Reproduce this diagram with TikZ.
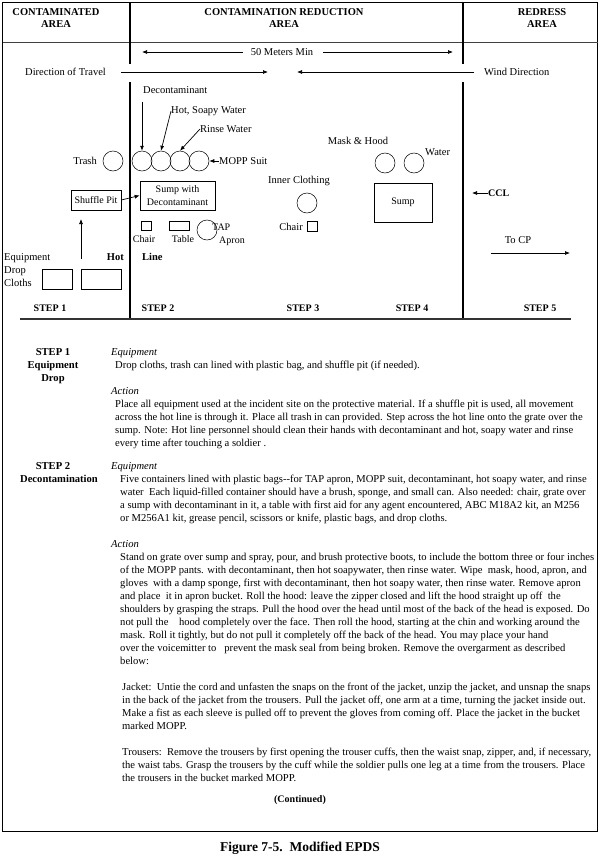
\documentclass[tikz,border=0pt]{standalone}
\usepackage{fontspec}
\setmainfont{Liberation Serif}
\usetikzlibrary{positioning, arrows.meta}

\begin{document}
\begin{tikzpicture}[x=1pt, y=-1pt,
    lbl/.style={font=\fontsize{10.5}{13}\selectfont, inner sep=0pt},
    tinylbl/.style={font=\fontsize{10}{12}\selectfont, inner sep=0pt},
    head/.style={font=\fontsize{10.5}{12.5}\selectfont\bfseries, align=center, inner sep=0pt},
    steplbl/.style={font=\fontsize{10}{12}\selectfont\bfseries, inner sep=0pt},
    bin/.style={circle, draw, line width=0.5pt, minimum size=20pt, inner sep=0pt},
    box/.style={rectangle, draw, line width=0.7pt, inner sep=0pt, font=\fontsize{10}{12.5}\selectfont, align=center},
    arrow/.style={-{Latex[length=5pt, width=4pt]}, line width=0.7pt},
    body/.style={font=\fontsize{10.6}{13}\selectfont, align=left, anchor=north west, inner sep=0pt},
    sidehead/.style={font=\fontsize{10.6}{13}\selectfont\bfseries, align=center, anchor=north, inner sep=0pt}
]
    \useasboundingbox (0,0) rectangle (600,859);

    % Frame and dividers
    \draw[line width=0.8pt] (2.5,2.5) rectangle (597.5,831);
    \draw[line width=0.6pt, black!75] (2.5,42) -- (597.5,42);
    \foreach \xx in {130, 463} {
        \draw[line width=1.1pt] (\xx,2.5) -- (\xx,64);
        \draw[line width=1.1pt] (\xx,82) -- (\xx,319);
    }
    \draw[line width=1.3pt, black!80] (20,319) -- (571,319);

    % Area headings
    \node[head] (hcont) at (56,18) {CONTAMINATED\\AREA};
    \node[head] (hred) at (284,18) {CONTAMINATION REDUCTION\\AREA};
    \node[head] (hredr) at (542,18) {REDRESS\\AREA};

    % Distance and directions
    \node[lbl] (meters) at (282,52) {50 Meters Min};
    \coordinate (mleft) at (142,52);
    \coordinate (mright) at (453,52);
    \draw[arrow] ([xshift=-8pt]meters.west) -- (mleft);
    \draw[arrow] ([xshift=10pt]meters.east) -- (mright);
    \node[lbl, anchor=west] (travel) at (25,72) {Direction of Travel};
    \coordinate (travelend) at (268,72);
    \draw[arrow] ([xshift=15pt]travel.east) -- (travelend);
    \node[lbl, anchor=west] (wind) at (484,72) {Wind Direction};
    \coordinate (windend) at (297,72);
    \draw[arrow] ([xshift=-10pt]wind.west) -- (windend);

    % Step 1
    \node[lbl, anchor=east] (trashlbl) at (97,161) {Trash};
    \node[bin] (trash) at (113,161) {};
    \node[box, minimum width=50pt, minimum height=20pt] (shuffle) at (96,200) {Shuffle Pit};
    \node[lbl, anchor=north west, align=left] (equip) at (4,251) {\strut Equipment\\Drop\\Cloths};
    \node[box, minimum width=30pt, minimum height=20pt] (cloth1) at (57,279) {};
    \node[box, minimum width=40pt, minimum height=20pt] (cloth2) at (101,279) {};
    \coordinate (upstart) at (81,259);
    \coordinate (upend) at (81,219);
    \draw[arrow] (upstart) -- (upend);
    \node[lbl, font=\fontsize{10.5}{13}\selectfont\bfseries, anchor=east] (hot) at (124,257) {Hot};
    \node[lbl, font=\fontsize{10.5}{13}\selectfont\bfseries, anchor=west] (line) at (142,257) {Line};

    % Step 2
    \foreach \n/\xx in {1/142, 2/161, 3/180, 4/199} {
        \node[bin] (c\n) at (\xx,161) {};
    }
    \node[lbl, anchor=west] (decon) at (143,90) {Decontaminant};
    \node[lbl, anchor=west] (soapy) at (171,111) {Hot, Soapy Water};
    \node[lbl, anchor=west] (rinse) at (200,129) {Rinse Water};
    \node[lbl, anchor=west] (mopp) at (219,161) {MOPP Suit};
    \coordinate (deconstart) at (142,102);
    \draw[arrow] (deconstart) -- (c1.north);
    \draw[arrow] (soapy.west) -- (c2.north);
    \draw[arrow] (rinse.west) -- (c3.north);
    \draw[arrow] (mopp.west) -- (c4.east);
    \node[box, minimum width=75pt, minimum height=29pt] (sump) at (177.5,195.5) {Sump with\\Decontaminant};
    \draw[arrow] (shuffle.east) -- (sump.west);
    \node[box, minimum width=10pt, minimum height=9pt] (chair) at (146,225.5) {};
    \node[tinylbl] (chairlbl) at (144,239) {Chair};
    \node[box, minimum width=20pt, minimum height=9pt] (table) at (179,225.5) {};
    \node[tinylbl] (tablelbl) at (183,239) {Table};
    \node[bin] (apron) at (207,230) {};
    \node[tinylbl, anchor=west] (taplbl) at (212,227) {TAP};
    \node[tinylbl, anchor=west] (apronlbl) at (219,241) {Apron};

    % Step 3
    \node[lbl] (inner) at (299,181) {Inner Clothing};
    \node[bin] (clothing) at (307,203) {};
    \node[lbl, anchor=east] (chair3lbl) at (303,227) {Chair};
    \node[box, minimum width=10pt, minimum height=10pt] (chair3) at (312,226) {};

    % Step 4
    \node[lbl] (mask) at (358,141) {Mask \& Hood};
    \node[bin] (maskbin) at (385,163) {};
    \node[bin] (water) at (414,163) {};
    \node[lbl, anchor=west] (waterlbl) at (425,152) {Water};
    \node[box, minimum width=58pt, minimum height=39pt] (sump4) at (403,202.5) {Sump};

    % Step 5
    \node[lbl, font=\fontsize{10}{12}\selectfont\bfseries, anchor=west] (ccl) at (488,193) {CCL};
    \coordinate (cclend) at (472,193);
    \draw[arrow] (ccl.west) -- (cclend);
    \node[lbl] (tocp) at (518,240) {To CP};
    \coordinate (cpstart) at (491,253);
    \coordinate (cpend) at (570,253);
    \draw[arrow] (cpstart) -- (cpend);

    % Step labels
    \foreach \s/\xx in {1/50, 2/158, 3/303, 4/412, 5/540} {
        \node[steplbl] (step\s) at (\xx,308) {STEP \s};
    }

    % Step 1 text
    \node[sidehead] (s1head) at (53,345.9) {\strut STEP 1\\Equipment\\Drop};
    \node[body, font=\fontsize{10.6}{13}\selectfont\itshape] (eq1) at (111,345.9) {\strut Equipment};
    \node[body] (eq1txt) at (115,358.9) {\strut Drop cloths, trash can lined with plastic bag, and shuffle pit (if needed).};
    \node[body, font=\fontsize{10.6}{13}\selectfont\itshape] (act1) at (111,384.9) {\strut Action};
    \node[body] (act1txt) at (115,397.9) {\strut Place all equipment used at the incident site on the protective material.  If a shuffle pit is used, all movement\\
        across the hot line is through it.  Place all trash in can provided.  Step across the hot line onto the grate over the\\
        sump.  Note:  Hot line personnel should clean their hands with decontaminant and hot, soapy water and rinse\\
        every time after touching a soldier .};

    % Step 2 text
    \node[sidehead] (s2head) at (53,459.9) {\strut STEP 2};
    \node[sidehead] (s2name) at (59,472.9) {\strut Decontamination};
    \node[body, font=\fontsize{10.6}{13}\selectfont\itshape] (eq2) at (111,459.9) {\strut Equipment};
    \node[body] (eq2txt) at (120,472.9) {\strut Five containers lined with plastic bags-{}-for TAP apron, MOPP suit, decontaminant, hot soapy water, and rinse\\
        water\ \ Each liquid-filled container should have a brush, sponge, and small can.  Also needed:  chair, grate over\\
        a sump with decontaminant in it, a table with first aid for any agent encountered, ABC M18A2 kit, an M256\\
        or M256A1 kit, grease pencil, scissors or knife, plastic bags, and drop cloths.};
    \node[body, font=\fontsize{10.6}{13}\selectfont\itshape] (act2) at (111,537.9) {\strut Action};
    \node[body] (act2txt) at (120,550.9) {\strut Stand on grate over sump and spray, pour, and brush protective boots, to include the bottom three or four inches\\
        of the MOPP pants. with decontaminant, then hot soapywater, then rinse water.  Wipe\ \ mask, hood, apron, and\\
        gloves\ \ with a damp sponge, first with decontaminant, then hot soapy water, then rinse water.  Remove apron\\
        and place\ \ it in apron bucket.  Roll the hood: leave the zipper closed and lift the hood straight up off\ \ the\\
        shoulders by grasping the straps.  Pull the hood over the head until most of the back of the head is exposed.  Do\\
        not pull the\ \ \ \ hood completely over the face.  Then roll the hood, starting at the chin and working around the\\
        mask.  Roll it tightly, but do not pull it completely off the back of the head.  You may place your hand\\
        over the voicemitter to\ \ \ prevent the mask seal from being broken.  Remove the overgarment as described\\
        below:};
    \node[body] (jacket) at (122,680.9) {\strut Jacket:\ \ Untie the cord and unfasten the snaps on the front of the jacket, unzip the jacket, and unsnap the snaps\\
        in the back of the jacket from the trousers.  Pull the jacket off, one arm at a time, turning the jacket inside out.\\
        Make a fist as each sleeve is pulled off to prevent the gloves from coming off.  Place the jacket in the bucket\\
        marked MOPP.};
    \node[body] (trousers) at (122,745.9) {\strut Trousers:\ \ Remove the trousers by first opening the trouser cuffs, then the waist snap, zipper, and, if necessary,\\
        the waist tabs.  Grasp the trousers by the cuff while the soldier pulls one leg at a time from the trousers.  Place\\
        the trousers in the bucket marked MOPP.};
    \node[lbl, font=\fontsize{10}{12}\selectfont\bfseries] (cont) at (300,800) {(Continued)};

    % Caption
    \node[font=\fontsize{13.5}{16}\selectfont\bfseries, inner sep=0pt] (caption) at (300,848) {Figure 7-5.\ \ Modified EPDS};
\end{tikzpicture}
\end{document}
